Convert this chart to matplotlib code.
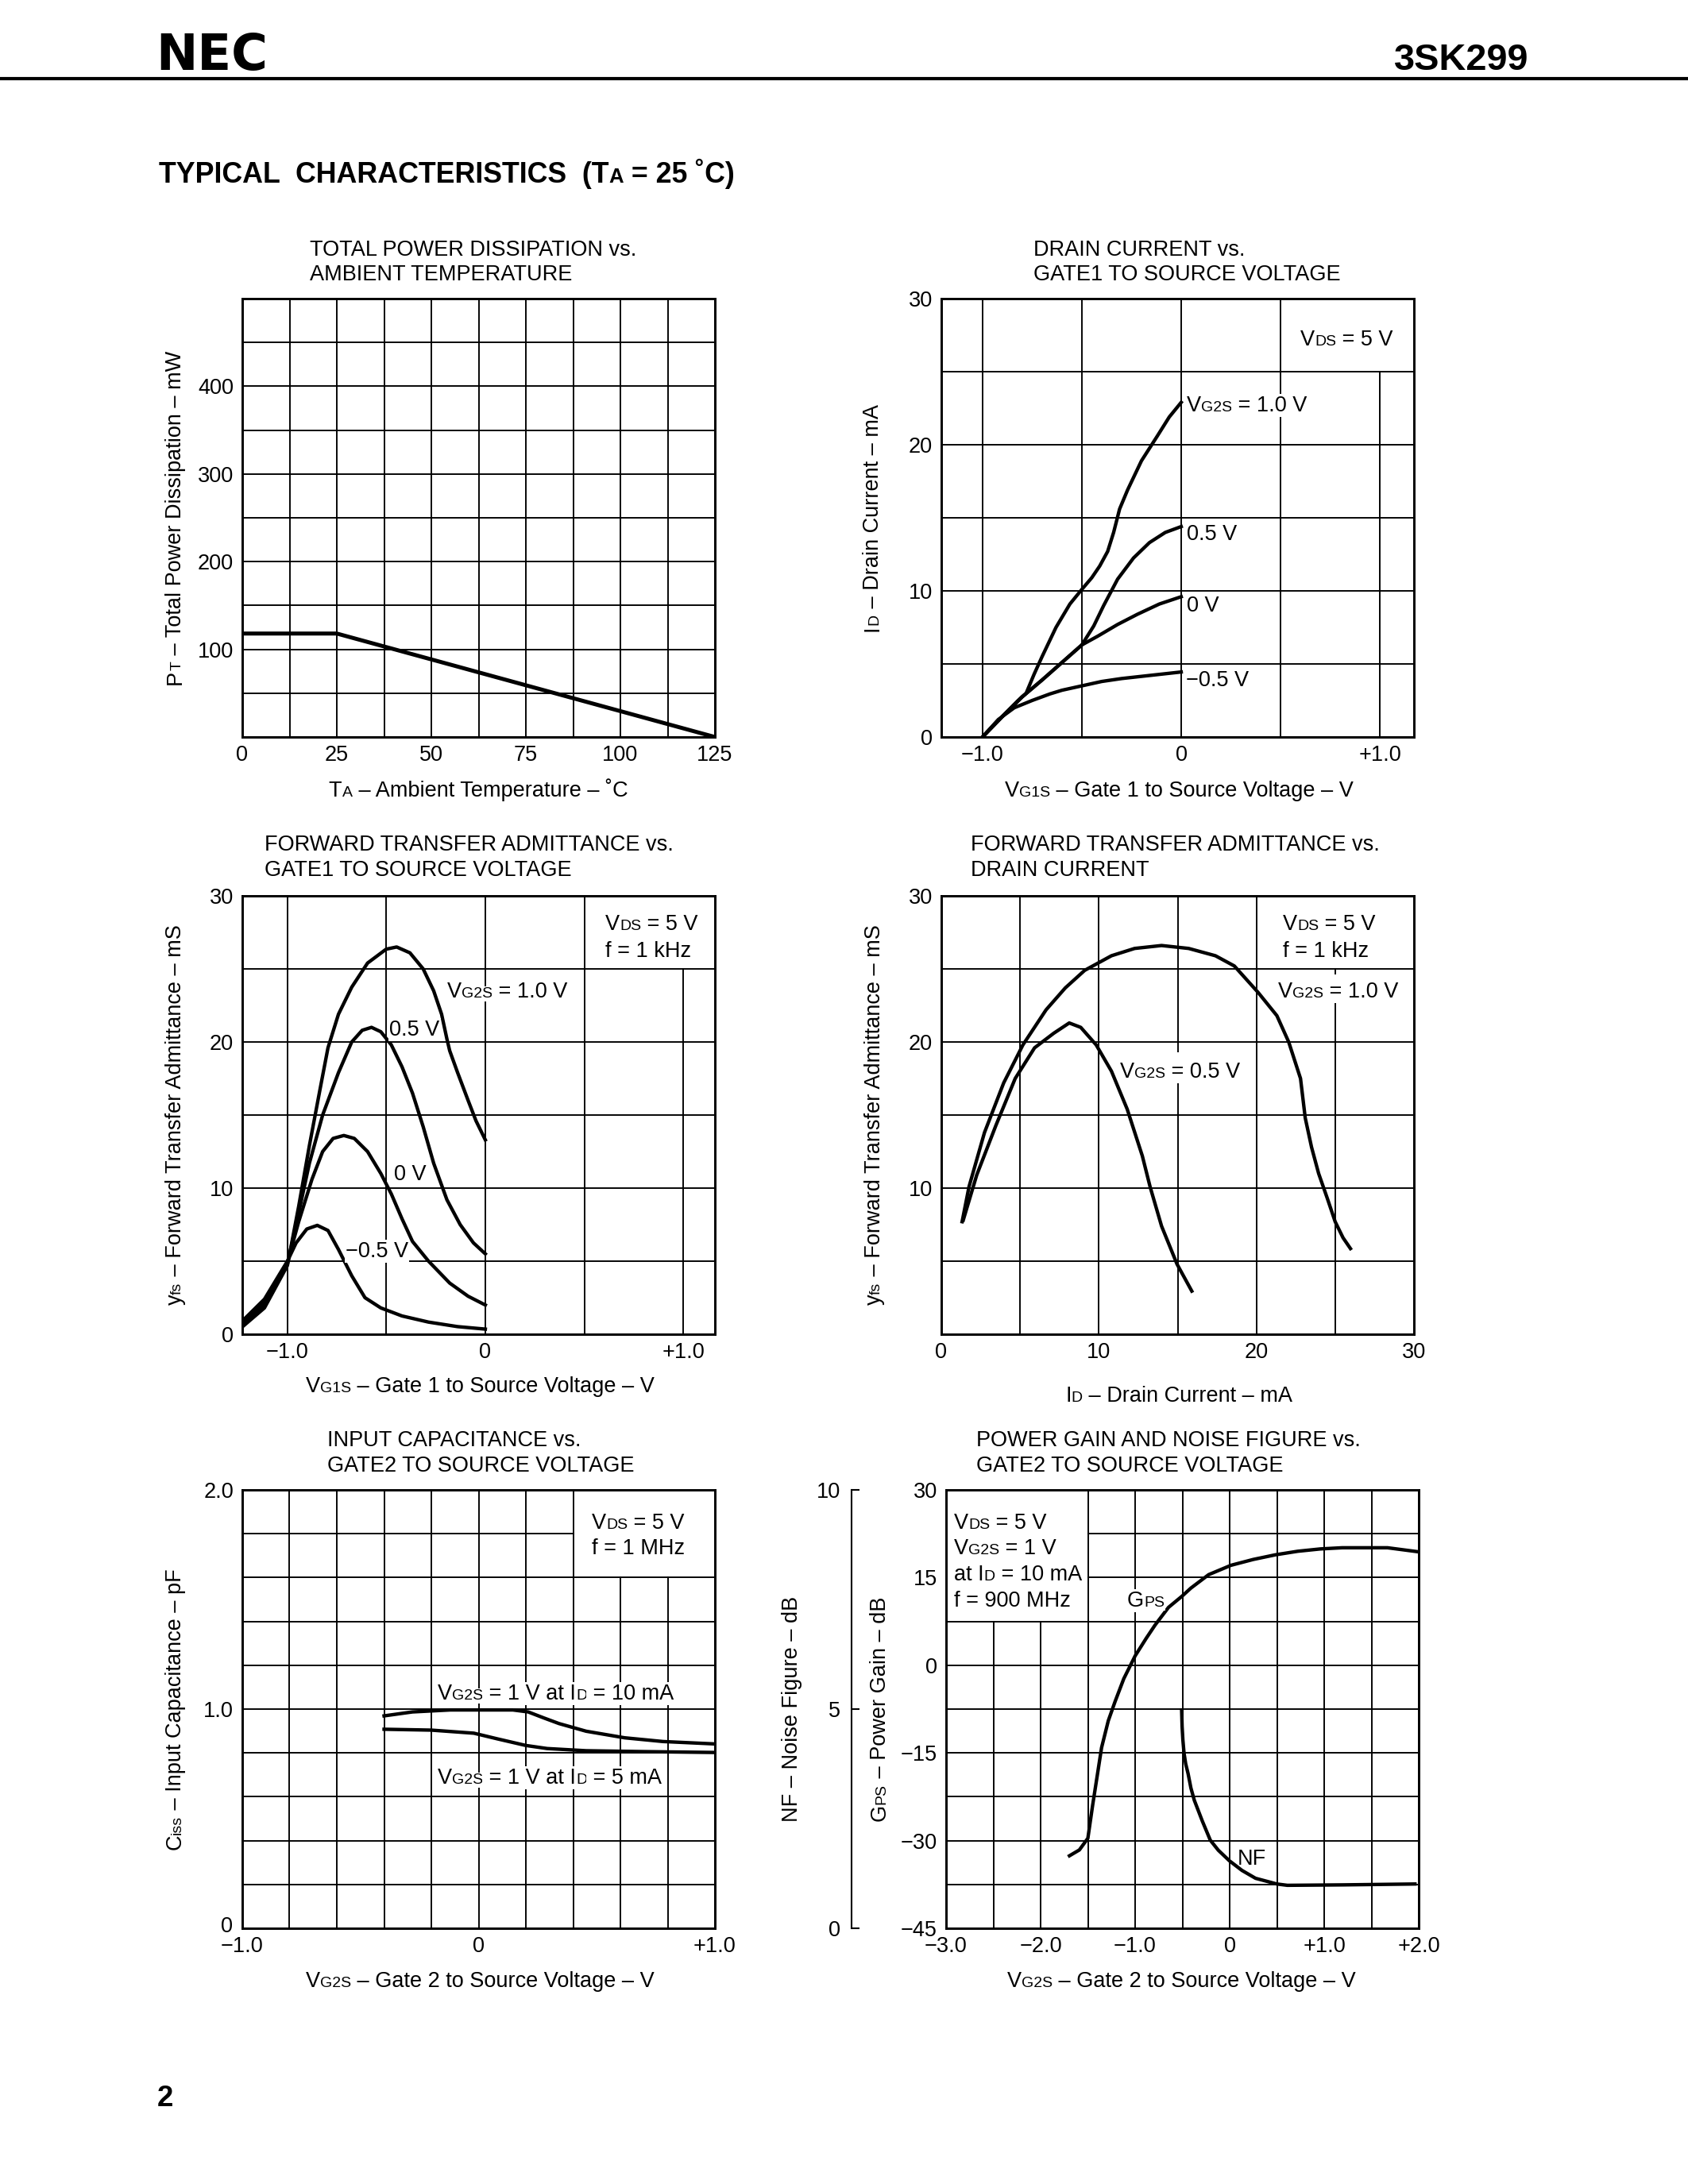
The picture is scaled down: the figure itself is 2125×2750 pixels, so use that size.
import re
import matplotlib
matplotlib.use('Agg')
import matplotlib.pyplot as plt
from matplotlib.lines import Line2D
from matplotlib.patches import Rectangle

plt.rcParams['font.family'] = ['Liberation Sans', 'DejaVu Sans']

W, H, DPI = 2125, 2750, 250
FS = 7.8        # body text (pt)
SUB = 0.72      # size of the small index letters (V DS, I D ...)
AW, AH = 595, 552   # plot box size in pixels

# ---- TOTAL POWER DISSIPATION vs. AMBIENT TEMPERATURE ----
ta_c = [0, 25, 125]
pt_mw = [118, 118, 0]

# ---- DRAIN CURRENT vs. GATE1 TO SOURCE VOLTAGE (VG2S = 1.0, 0.5, 0, -0.5 V) ----
id_x_10 = [-1.0, -0.9, -0.82, -0.78, -0.74, -0.70, -0.63, -0.56, -0.5, -0.45, -0.41, -0.37,
           -0.34, -0.31, -0.27, -0.2, -0.12, -0.06, 0.0]
id_10 = [0, 1.4, 2.5, 3.0, 4.3, 5.5, 7.5, 9.1, 10.1, 10.9, 11.7, 12.7, 14.0, 15.6, 16.9,
         18.9, 20.6, 21.9, 22.9]
id_x_05 = [-1.0, -0.9, -0.8, -0.7, -0.6, -0.5, -0.44, -0.39, -0.32, -0.24, -0.16, -0.08, 0.0]
id_05 = [0, 1.4, 2.75, 3.9, 5.1, 6.3, 7.6, 9.0, 10.8, 12.25, 13.3, 14.0, 14.4]
id_x_00 = [-1.0, -0.9, -0.8, -0.7, -0.6, -0.5, -0.42, -0.32, -0.22, -0.11, 0.0]
id_00 = [0, 1.4, 2.75, 3.9, 5.1, 6.3, 6.9, 7.7, 8.4, 9.1, 9.6]
id_x_m05 = [-1.0, -0.92, -0.84, -0.75, -0.66, -0.6, -0.5, -0.4, -0.3, -0.2, -0.1, 0.0]
id_m05 = [0, 1.2, 2.0, 2.5, 2.95, 3.2, 3.5, 3.8, 4.0, 4.15, 4.3, 4.45]

# ---- FORWARD TRANSFER ADMITTANCE vs. GATE1 TO SOURCE VOLTAGE ----
yv_x_10 = [-1.228, -1.116, -1.0, -0.943, -0.889, -0.836, -0.795, -0.742, -0.675, -0.595, -0.501,
           -0.448, -0.381, -0.314, -0.261, -0.221, -0.194, -0.18, -0.14, -0.087, -0.047, 0.0]
yv_10 = [0.5, 1.8, 4.7, 8.75, 12.9, 16.7, 19.6, 21.9, 23.75, 25.4, 26.35, 26.5, 26.1, 25.0,
         23.5, 21.9, 20.2, 19.4, 17.9, 16.0, 14.6, 13.3]
yv_x_05 = [-1.228, -1.116, -1.0, -0.943, -0.889, -0.822, -0.742, -0.675, -0.622, -0.575, -0.528,
           -0.475, -0.421, -0.368, -0.314, -0.261, -0.194, -0.127, -0.06, 0.0]
yv_05 = [0.6, 2.0, 4.8, 8.3, 11.7, 15.0, 17.9, 20.0, 20.8, 21.0, 20.7, 19.8, 18.3, 16.5, 14.2,
         11.7, 9.2, 7.5, 6.25, 5.5]
yv_x_00 = [-1.228, -1.116, -1.0, -0.943, -0.876, -0.822, -0.769, -0.715, -0.662, -0.595, -0.528,
           -0.475, -0.421, -0.368, -0.287, -0.18, -0.087, 0.0]
yv_00 = [0.7, 2.2, 4.9, 7.7, 10.6, 12.5, 13.4, 13.6, 13.4, 12.5, 11.0, 9.6, 7.9, 6.35, 5.0,
         3.5, 2.6, 2.0]
yv_x_m05 = [-1.228, -1.116, -1.0, -0.956, -0.902, -0.849, -0.795, -0.742, -0.675, -0.608, -0.528,
            -0.421, -0.287, -0.14, 0.0]
yv_m05 = [0.9, 2.4, 5.0, 6.25, 7.2, 7.45, 7.1, 5.8, 4.0, 2.5, 1.8, 1.25, 0.83, 0.52, 0.35]

# ---- FORWARD TRANSFER ADMITTANCE vs. DRAIN CURRENT ----
yi_x_10 = [1.32, 1.76, 2.74, 3.96, 5.18, 6.65, 7.87, 9.1, 10.8, 12.27, 13.98, 15.7, 17.4, 18.6,
           20.1, 21.3, 22.05, 22.8, 23.1, 23.5, 23.95, 24.5, 25.0, 25.5, 25.97]
yi_10 = [7.7, 10.1, 13.8, 17.2, 19.8, 22.2, 23.7, 24.9, 25.9, 26.4, 26.6, 26.4, 25.9, 25.2,
         23.4, 21.8, 20.0, 17.5, 14.8, 12.8, 11.0, 9.3, 7.7, 6.6, 5.86]
yi_x_05 = [1.39, 2.25, 3.47, 4.69, 5.92, 7.14, 8.12, 8.85, 9.83, 10.8, 11.8, 12.76, 13.25,
           13.98, 14.96, 15.9]
yi_05 = [7.8, 10.9, 14.3, 17.5, 19.6, 20.6, 21.3, 21.0, 19.8, 18.0, 15.4, 12.2, 10.1, 7.4, 4.8, 2.95]

# ---- INPUT CAPACITANCE vs. GATE2 TO SOURCE VOLTAGE ----
ciss_x_10 = [-0.4, -0.28, -0.12, 0.0, 0.145, 0.21, 0.275, 0.34, 0.455, 0.618, 0.78, 1.0]
ciss_10 = [0.969, 0.987, 0.996, 0.996, 0.996, 0.987, 0.96, 0.934, 0.899, 0.869, 0.852, 0.841]
ciss_x_5 = [-0.4, -0.2, -0.02, 0.08, 0.2, 0.29, 0.455, 0.7, 1.0]
ciss_5 = [0.908, 0.904, 0.89, 0.864, 0.834, 0.82, 0.81, 0.806, 0.802]

# ---- POWER GAIN AND NOISE FIGURE vs. GATE2 TO SOURCE VOLTAGE ----
gps_x = [-1.695, -1.59, -1.5, -1.45, -1.40, -1.355, -1.284, -1.213, -1.12, -1.0, -0.883,
         -0.788, -0.647, -0.505, -0.41, -0.222, 0.014, 0.25, 0.486, 0.72, 0.96, 1.19, 1.67, 2.0]
gps_db = [-32.6, -31.6, -29.6, -24.0, -18.8, -14.1, -9.5, -6.25, -2.3, 1.6, 4.6, 6.9, 9.9,
          11.8, 13.2, 15.5, 17.1, 18.1, 18.9, 19.5, 19.9, 20.1, 20.1, 19.4]
nf_x = [-0.508, -0.503, -0.495, -0.483, -0.465, -0.44, -0.41, -0.374, -0.29, -0.205, -0.12,
        -0.003, 0.13, 0.274, 0.5, 0.61, 1.2, 1.96]
nf_db = [4.98, 4.6, 4.3, 4.0, 3.75, 3.53, 3.2, 2.92, 2.45, 2.01, 1.78, 1.54, 1.32, 1.14, 1.01,
         0.98, 0.99, 1.01]

# ---- tick values / labels ----
v_ticks = [-1.0, -0.5, 0, 0.5, 1.0]
v_labels = ['\u22121.0', '', '0', '', '+1.0']
ma_ticks = [0, 5, 10, 15, 20, 25, 30]

fig = plt.figure(figsize=(W / DPI, H / DPI), dpi=DPI)


def px(x, y):
    return x / W, 1 - y / H


def rich(x, y, s, size=FS, ha='left', rot=0, weight='normal', box=False):
    # (x, y) in pixels = start / centre of the capitals; _{..} parts are set small on the baseline
    r = fig.canvas.get_renderer()
    items = []
    for p in [p for p in re.split(r'(_\{[^}]*\})', s) if p]:
        small = p.startswith('_{')
        kw = dict(fontsize=size * SUB if small else size, weight=weight,
                  ha='left', va='baseline', rotation=rot, rotation_mode='anchor')
        if box:
            kw['bbox'] = dict(boxstyle='square,pad=0.05', fc='white', ec='none')
        t = fig.text(0, 0, p[2:-1] if small else p, **kw)
        bb = t.get_window_extent(r)
        items.append((t, bb.height if rot else bb.width))
    total = sum(w for _, w in items)
    pos = -{'left': 0, 'center': total / 2, 'right': total}[ha]
    half_cap = 0.36 * size * DPI / 72
    for t, w in items:
        if rot:
            t.set_position(px(x + half_cap, y - pos))
        else:
            t.set_position(px(x + pos, y + half_cap))
        pos += w


def panel(left, top, xlim, ylim, xt, xtl, yt, ytl):
    ax = fig.add_axes([left / W, 1 - (top + AH) / H, AW / W, AH / H])
    ax.set_xlim(xlim)
    ax.set_ylim(ylim)
    ax.set_xticks(xt)
    ax.set_xticklabels(xtl)
    ax.set_yticks(yt)
    ax.set_yticklabels(ytl)
    ax.tick_params(length=0, labelsize=FS, pad=3.2)
    ax.tick_params(axis='x', pad=3.0)
    ax.grid(True, color='black', lw=0.55)
    ax.set_axisbelow(True)
    for s in ax.spines.values():
        s.set_linewidth(0.85)
    return ax


def mask(ax, x0, y0, x1, y1):
    # white patch that hides the grid (not the curves) where the chart has a text box
    ax.add_patch(Rectangle((x0, y0), x1 - x0, y1 - y0, fc='white', ec='none', zorder=1))


def title(x, y, l1, l2):
    rich(x, y, l1)
    rich(x, y + 31.5, l2)


LW = 1.25

# header
fig.text(*px(196, 88), 'NEC', fontsize=18, weight='bold', family='DejaVu Sans', va='baseline')
fig.text(*px(1924, 88), '3SK299', fontsize=13.5, weight='bold', ha='right', va='baseline')
fig.add_artist(Line2D([0, 1], [1 - 99 / H] * 2, lw=1.2, color='black', transform=fig.transFigure))
rich(200, 217.5, 'TYPICAL  CHARACTERISTICS  (T_{A} = 25 \u02daC)', size=10.3, weight='bold')
rich(198, 2639, '2', size=10.5, weight='bold')

# 1: total power dissipation
ax1 = panel(305, 376, (0, 125), (0, 500),
            [0, 12.5, 25, 37.5, 50, 62.5, 75, 87.5, 100, 112.5, 125],
            ['0', '', '25', '', '50', '', '75', '', '100', '', '125'],
            [0, 50, 100, 150, 200, 250, 300, 350, 400, 450, 500],
            ['', '', '100', '', '200', '', '300', '', '400', '', ''])
ax1.plot(ta_c, pt_mw, color='black', lw=1.45, solid_capstyle='butt')
title(390, 312, 'TOTAL POWER DISSIPATION vs.', 'AMBIENT TEMPERATURE')
rich(218, 652, 'P_{T} \u2013 Total Power Dissipation \u2013 mW', ha='center', rot=90)
rich(602, 993, 'T_{A} \u2013 Ambient Temperature \u2013 \u02daC', ha='center')

# 2: drain current
ax2 = panel(1185, 376, (-1.207, 1.171), (0, 30), v_ticks, v_labels,
            ma_ticks, ['0', '', '10', '', '20', '', '30'])
mask(ax2, 0.505, 25.06, 1.171, 30)
for xs, ys in [(id_x_10, id_10), (id_x_05, id_05), (id_x_00, id_00), (id_x_m05, id_m05)]:
    ax2.plot(xs, ys, color='black', lw=LW)
title(1301, 312, 'DRAIN CURRENT vs.', 'GATE1 TO SOURCE VOLTAGE')
rich(1637, 425, 'V_{DS} = 5 V', box=True)
rich(1494, 508, 'V_{G2S} = 1.0 V', box=True)
rich(1494, 670, '0.5 V', box=True)
rich(1494, 760, '0 V', box=True)
rich(1493, 854, '\u22120.5 V', box=True)
rich(1096, 652, 'I_{D} \u2013 Drain Current \u2013 mA', ha='center', rot=90)
rich(1484, 993, 'V_{G1S} \u2013 Gate 1 to Source Voltage \u2013 V', ha='center')

# 3: forward transfer admittance vs VG1S
ax3 = panel(305, 1128, (-1.228, 1.16), (0, 30), v_ticks, v_labels,
            ma_ticks, ['0', '', '10', '', '20', '', '30'])
mask(ax3, 0.505, 25.06, 1.16, 30)
for xs, ys in [(yv_x_10, yv_10), (yv_x_05, yv_05), (yv_x_00, yv_00), (yv_x_m05, yv_m05)]:
    ax3.plot(xs, ys, color='black', lw=LW)
title(333, 1061.5, 'FORWARD TRANSFER ADMITTANCE vs.', 'GATE1 TO SOURCE VOLTAGE')
rich(762, 1161, 'V_{DS} = 5 V')
rich(762, 1195, 'f = 1 kHz')
rich(563, 1246, 'V_{G2S} = 1.0 V', box=True)
rich(490, 1294, '0.5 V', box=True)
rich(496, 1476, '0 V', box=True)
rich(435, 1573, '\u22120.5 V', box=True)
rich(218, 1404, 'y_{fs} \u2013 Forward Transfer Admittance \u2013 mS', ha='center', rot=90)
rich(604, 1743, 'V_{G1S} \u2013 Gate 1 to Source Voltage \u2013 V', ha='center')

# 4: forward transfer admittance vs ID
ax4 = panel(1185, 1128, (0, 30), (0, 30), ma_ticks, ['0', '', '10', '', '20', '', '30'],
            ma_ticks, ['', '', '10', '', '20', '', '30'])
mask(ax4, 20.05, 25.06, 30, 30)
mask(ax4, 24.5, 22.66, 25.5, 24.6)
mask(ax4, 14.5, 17.2, 15.5, 19.3)
ax4.plot(yi_x_10, yi_10, color='black', lw=LW)
ax4.plot(yi_x_05, yi_05, color='black', lw=LW)
title(1222, 1061.5, 'FORWARD TRANSFER ADMITTANCE vs.', 'DRAIN CURRENT')
rich(1615, 1161, 'V_{DS} = 5 V')
rich(1615, 1195, 'f = 1 kHz')
rich(1609, 1246, 'V_{G2S} = 1.0 V', box=True)
rich(1410, 1347, 'V_{G2S} = 0.5 V', box=True)
rich(1098, 1404, 'y_{fs} \u2013 Forward Transfer Admittance \u2013 mS', ha='center', rot=90)
rich(1484, 1755, 'I_{D} \u2013 Drain Current \u2013 mA', ha='center')

# 5: input capacitance
ax5 = panel(305, 1876, (-1.0, 1.0), (0, 2.0),
            [-1.0, -0.8, -0.6, -0.4, -0.2, 0, 0.2, 0.4, 0.6, 0.8, 1.0],
            ['\u22121.0', '', '', '', '', '0', '', '', '', '', '+1.0'],
            [0, 0.2, 0.4, 0.6, 0.8, 1.0, 1.2, 1.4, 1.6, 1.8, 2.0],
            ['', '', '', '', '', '1.0', '', '', '', '', '2.0'])
mask(ax5, 0.404, 1.604, 1.0, 2.0)
ax5.plot(ciss_x_10, ciss_10, color='black', lw=LW)
ax5.plot(ciss_x_5, ciss_5, color='black', lw=LW)
rich(293, 2423, '0', ha='right')   # origin label sits a little above the corner
title(412, 1811.5, 'INPUT CAPACITANCE vs.', 'GATE2 TO SOURCE VOLTAGE')
rich(745, 1915, 'V_{DS} = 5 V')
rich(745, 1947, 'f = 1 MHz')
rich(551, 2130, 'V_{G2S} = 1 V at I_{D} = 10 mA', box=True)
rich(551, 2236, 'V_{G2S} = 1 V at I_{D} = 5 mA', box=True)
rich(218, 2152, 'C_{iss} \u2013 Input Capacitance \u2013 pF', ha='center', rot=90)
rich(604, 2492, 'V_{G2S} \u2013 Gate 2 to Source Voltage \u2013 V', ha='center')

# 6: power gain and noise figure
ax6 = panel(1191, 1876, (-3.0, 2.0), (-45, 30),
            [-3.0, -2.5, -2.0, -1.5, -1.0, -0.5, 0, 0.5, 1.0, 1.5, 2.0],
            ['\u22123.0', '', '\u22122.0', '', '\u22121.0', '', '0', '', '+1.0', '', '+2.0'],
            [-45, -37.5, -30, -22.5, -15, -7.5, 0, 7.5, 15, 22.5, 30],
            ['\u221245', '', '\u221230', '', '\u221215', '', '0', '', '15', '', '30'])
mask(ax6, -3.0, 7.63, -1.508, 30)
ax6.plot(gps_x, gps_db, color='black', lw=LW)
ax_nf = ax6.twinx()
ax_nf.set_ylim(0, 10)
ax_nf.set_yticks([0, 5, 10])
ax_nf.set_yticklabels(['0', '5', '10'])
ax_nf.yaxis.set_ticks_position('left')
ax_nf.spines['left'].set_position(('axes', (1072 - 1191) / AW))
for k in ('right', 'top', 'bottom'):
    ax_nf.spines[k].set_visible(False)
ax_nf.spines['left'].set_linewidth(0.6)
ax_nf.tick_params(axis='y', direction='in', length=2.9, width=0.6, pad=4, labelsize=FS)
ax_nf.plot(nf_x, nf_db, color='black', lw=LW)
title(1229, 1811.5, 'POWER GAIN AND NOISE FIGURE vs.', 'GATE2 TO SOURCE VOLTAGE')
rich(1201, 1915, 'V_{DS} = 5 V')
rich(1201, 1947, 'V_{G2S} = 1 V')
rich(1201, 1980, 'at I_{D} = 10 mA')
rich(1201, 2013, 'f = 900 MHz')
rich(1419, 2013, 'G_{PS}', box=True)
rich(1558, 2338, 'NF')
rich(994, 2152, 'NF \u2013 Noise Figure \u2013 dB', ha='center', rot=90)
rich(1105, 2152, 'G_{PS} \u2013 Power Gain \u2013 dB', ha='center', rot=90)
rich(1487, 2492, 'V_{G2S} \u2013 Gate 2 to Source Voltage \u2013 V', ha='center')

fig.savefig('out.png', dpi=DPI)
